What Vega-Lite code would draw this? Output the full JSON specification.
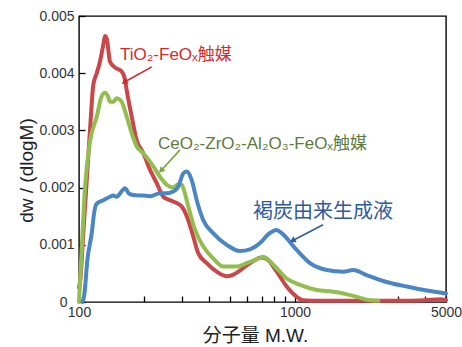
{
  "$schema": "https://vega.github.io/schema/vega-lite/v6.json",
  "width": 367,
  "height": 286,
  "autosize": {"type": "none"},
  "padding": {"left": 79, "top": 16, "right": 16, "bottom": 45},
  "background": "white",
  "config": {
    "view": {"stroke": "#000", "strokeWidth": 1.4},
    "axis": {
      "domain": false, "grid": false, "tickColor": "#000", "tickSize": 6, "tickWidth": 1.3, "offset": -6,
      "labelFont": "Liberation Sans", "labelFontSize": 14, "labelColor": "#333", "labelFlush": false, "labelOverlap": false,
      "titleFont": "Liberation Sans, Noto Sans CJK JP", "titleFontSize": 19, "titleFontWeight": "normal", "titleColor": "#222"
    }
  },
  "datasets": {
    "curves": [
      {"s": "TiO2", "M": 100, "dw": 0.00025}, {"s": "TiO2", "M": 101.5, "dw": 0.0004}, {"s": "TiO2", "M": 104.7, "dw": 0.0012},
      {"s": "TiO2", "M": 108.5, "dw": 0.0021}, {"s": "TiO2", "M": 112.4, "dw": 0.003}, {"s": "TiO2", "M": 116.5, "dw": 0.0038},
      {"s": "TiO2", "M": 120.8, "dw": 0.004}, {"s": "TiO2", "M": 125, "dw": 0.0042}, {"s": "TiO2", "M": 129.6, "dw": 0.0045},
      {"s": "TiO2", "M": 131.9, "dw": 0.00465}, {"s": "TiO2", "M": 134.5, "dw": 0.0046}, {"s": "TiO2", "M": 139.2, "dw": 0.0042},
      {"s": "TiO2", "M": 146.8, "dw": 0.0041}, {"s": "TiO2", "M": 157.6, "dw": 0.00403}, {"s": "TiO2", "M": 163, "dw": 0.0039},
      {"s": "TiO2", "M": 166.3, "dw": 0.0037}, {"s": "TiO2", "M": 175.4, "dw": 0.00324}, {"s": "TiO2", "M": 184.9, "dw": 0.00283},
      {"s": "TiO2", "M": 198.5, "dw": 0.0026}, {"s": "TiO2", "M": 213.2, "dw": 0.00231}, {"s": "TiO2", "M": 228.9, "dw": 0.00208},
      {"s": "TiO2", "M": 245.6, "dw": 0.00184}, {"s": "TiO2", "M": 263.8, "dw": 0.00178}, {"s": "TiO2", "M": 283.4, "dw": 0.00173},
      {"s": "TiO2", "M": 298.9, "dw": 0.00167}, {"s": "TiO2", "M": 320.6, "dw": 0.00143}, {"s": "TiO2", "M": 338.2, "dw": 0.00114},
      {"s": "TiO2", "M": 356.8, "dw": 0.00085}, {"s": "TiO2", "M": 390.2, "dw": 0.00068}, {"s": "TiO2", "M": 434, "dw": 0.00053},
      {"s": "TiO2", "M": 482.7, "dw": 0.00045}, {"s": "TiO2", "M": 518, "dw": 0.00048}, {"s": "TiO2", "M": 556, "dw": 0.00055},
      {"s": "TiO2", "M": 619, "dw": 0.00068}, {"s": "TiO2", "M": 701, "dw": 0.00078}, {"s": "TiO2", "M": 752, "dw": 0.00073},
      {"s": "TiO2", "M": 823, "dw": 0.00053}, {"s": "TiO2", "M": 915, "dw": 0.00027}, {"s": "TiO2", "M": 1018, "dw": 0.00009},
      {"s": "TiO2", "M": 1089, "dw": 0.00003}, {"s": "TiO2", "M": 1300, "dw": 0.00002}, {"s": "TiO2", "M": 2000, "dw": 0.00002},
      {"s": "TiO2", "M": 3000, "dw": 0.00002}, {"s": "TiO2", "M": 4000, "dw": 0.00003}, {"s": "TiO2", "M": 4700, "dw": 0.00005},
      {"s": "TiO2", "M": 5000, "dw": 0.00003},

      {"s": "CeO2", "M": 100, "dw": 0.0}, {"s": "CeO2", "M": 102.9, "dw": 0.0009}, {"s": "CeO2", "M": 106.6, "dw": 0.002},
      {"s": "CeO2", "M": 112.4, "dw": 0.0028}, {"s": "CeO2", "M": 120.8, "dw": 0.00324}, {"s": "CeO2", "M": 127.4, "dw": 0.0036},
      {"s": "CeO2", "M": 131.9, "dw": 0.00366}, {"s": "CeO2", "M": 136, "dw": 0.0036}, {"s": "CeO2", "M": 139.2, "dw": 0.0035},
      {"s": "CeO2", "M": 144, "dw": 0.0035}, {"s": "CeO2", "M": 149.5, "dw": 0.00356}, {"s": "CeO2", "M": 154, "dw": 0.00354},
      {"s": "CeO2", "M": 157.6, "dw": 0.0035}, {"s": "CeO2", "M": 166.3, "dw": 0.00324}, {"s": "CeO2", "M": 175.4, "dw": 0.00295},
      {"s": "CeO2", "M": 184.9, "dw": 0.00272}, {"s": "CeO2", "M": 198.5, "dw": 0.0026}, {"s": "CeO2", "M": 220.8, "dw": 0.00237},
      {"s": "CeO2", "M": 237.1, "dw": 0.00219}, {"s": "CeO2", "M": 254.7, "dw": 0.00205}, {"s": "CeO2", "M": 273.3, "dw": 0.002},
      {"s": "CeO2", "M": 288.3, "dw": 0.00206}, {"s": "CeO2", "M": 298.9, "dw": 0.00205}, {"s": "CeO2", "M": 304, "dw": 0.00199},
      {"s": "CeO2", "M": 320.6, "dw": 0.00167}, {"s": "CeO2", "M": 344.4, "dw": 0.00126}, {"s": "CeO2", "M": 376.3, "dw": 0.00097},
      {"s": "CeO2", "M": 418.6, "dw": 0.00076}, {"s": "CeO2", "M": 465.6, "dw": 0.00062}, {"s": "CeO2", "M": 537, "dw": 0.00062},
      {"s": "CeO2", "M": 597, "dw": 0.00068}, {"s": "CeO2", "M": 689, "dw": 0.00077}, {"s": "CeO2", "M": 713, "dw": 0.00079},
      {"s": "CeO2", "M": 740, "dw": 0.00076}, {"s": "CeO2", "M": 823, "dw": 0.00059}, {"s": "CeO2", "M": 915, "dw": 0.00041},
      {"s": "CeO2", "M": 1055, "dw": 0.0003}, {"s": "CeO2", "M": 1260, "dw": 0.00021}, {"s": "CeO2", "M": 1504, "dw": 0.00018},
      {"s": "CeO2", "M": 1673, "dw": 0.00015}, {"s": "CeO2", "M": 1930, "dw": 0.00009}, {"s": "CeO2", "M": 2224, "dw": 0.00003},
      {"s": "CeO2", "M": 2430, "dw": 0.00002},

      {"s": "Coal", "M": 104, "dw": 0.0}, {"s": "Coal", "M": 106, "dw": 0.00015}, {"s": "Coal", "M": 109.3, "dw": 0.00073},
      {"s": "Coal", "M": 114.5, "dw": 0.0012}, {"s": "Coal", "M": 118, "dw": 0.0016}, {"s": "Coal", "M": 120.8, "dw": 0.00172},
      {"s": "Coal", "M": 129.6, "dw": 0.00178}, {"s": "Coal", "M": 139.2, "dw": 0.00184}, {"s": "Coal", "M": 144, "dw": 0.00186},
      {"s": "Coal", "M": 149.5, "dw": 0.00184}, {"s": "Coal", "M": 155, "dw": 0.0019}, {"s": "Coal", "M": 163.3, "dw": 0.00199},
      {"s": "Coal", "M": 170, "dw": 0.0019}, {"s": "Coal", "M": 178.4, "dw": 0.00187}, {"s": "Coal", "M": 198.5, "dw": 0.00186},
      {"s": "Coal", "M": 213.2, "dw": 0.00185}, {"s": "Coal", "M": 237.1, "dw": 0.0019}, {"s": "Coal", "M": 255, "dw": 0.0019},
      {"s": "Coal", "M": 273.3, "dw": 0.00193}, {"s": "Coal", "M": 288.3, "dw": 0.00202}, {"s": "Coal", "M": 304, "dw": 0.00225},
      {"s": "Coal", "M": 315.2, "dw": 0.00228}, {"s": "Coal", "M": 332.5, "dw": 0.00213}, {"s": "Coal", "M": 350.7, "dw": 0.00178},
      {"s": "Coal", "M": 376.3, "dw": 0.00143}, {"s": "Coal", "M": 418.6, "dw": 0.0012}, {"s": "Coal", "M": 482.7, "dw": 0.001},
      {"s": "Coal", "M": 556.5, "dw": 0.00089}, {"s": "Coal", "M": 619, "dw": 0.00092}, {"s": "Coal", "M": 689, "dw": 0.00103},
      {"s": "Coal", "M": 760, "dw": 0.0012}, {"s": "Coal", "M": 823, "dw": 0.00126}, {"s": "Coal", "M": 870, "dw": 0.0012},
      {"s": "Coal", "M": 1018, "dw": 0.00091}, {"s": "Coal", "M": 1173, "dw": 0.00068}, {"s": "Coal", "M": 1402, "dw": 0.00056},
      {"s": "Coal", "M": 1673, "dw": 0.00053}, {"s": "Coal", "M": 1862, "dw": 0.00056}, {"s": "Coal", "M": 2147, "dw": 0.00047},
      {"s": "Coal", "M": 2658, "dw": 0.00035}, {"s": "Coal", "M": 3289, "dw": 0.00027}, {"s": "Coal", "M": 4071, "dw": 0.0002},
      {"s": "Coal", "M": 5000, "dw": 0.00015}
    ],
    "notes": [
      {"s": "TiO2", "label": "TiO₂-FeOₓ触媒", "M": 154.8, "dw": 0.00432},
      {"s": "CeO2", "label": "CeO₂-ZrO₂-Al₂O₃-FeOₓ触媒", "M": 232.2, "dw": 0.00277},
      {"s": "Coal", "label": "褐炭由来生成液", "M": 639, "dw": 0.00157}
    ],
    "arrows": [
      {"s": "TiO2", "M": 217.1, "dw": 0.00411, "M2": 163.3, "dw2": 0.00385},
      {"s": "CeO2", "M": 293.6, "dw": 0.00266, "M2": 241.5, "dw2": 0.00231},
      {"s": "Coal", "M": 1348, "dw": 0.00135, "M2": 982, "dw2": 0.00108}
    ]
  },
  "layer": [
    {
      "data": {"name": "curves"},
      "mark": {"type": "line", "strokeWidth": 4, "interpolate": "monotone", "strokeCap": "round", "strokeJoin": "round"},
      "encoding": {
        "x": {"field": "M", "type": "quantitative",
          "scale": {"type": "log", "domain": [100, 5000], "nice": false},
          "axis": {"title": "分子量 M.W.", "values": [100, 200, 300, 400, 500, 600, 700, 800, 900, 1000, 2000, 3000, 4000, 5000],
            "labelExpr": "datum.value == 100 || datum.value == 1000 || datum.value == 5000 ? datum.value : ''",
            "labelPadding": 3, "titlePadding": 7, "titleX": 176}},
        "y": {"field": "dw", "type": "quantitative",
          "scale": {"domain": [0, 0.005], "nice": false},
          "axis": {"title": "dw / (dlogM)", "values": [0, 0.0005, 0.001, 0.0015, 0.002, 0.0025, 0.003, 0.0035, 0.004, 0.0045, 0.005],
            "labelExpr": "round(datum.value * 10000) % 10 == 0 ? (datum.value == 0 ? '0' : format(datum.value, '.3f')) : ''",
            "labelPadding": {"condition": {"test": "datum.value == 0", "value": 12}, "value": 5},
            "titlePadding": 2, "titleY": 154}},
        "color": {"field": "s", "type": "nominal", "legend": null, "sort": ["Coal", "CeO2", "TiO2"],
          "scale": {"domain": ["Coal", "CeO2", "TiO2"], "range": ["#4a86c6", "#92bd4f", "#c9474a"]}},
        "order": {"field": "s", "sort": "ascending"}
      }
    },
    {
      "data": {"name": "arrows"},
      "mark": {"type": "rule", "strokeWidth": 1.6},
      "encoding": {
        "x": {"field": "M", "type": "quantitative"},
        "y": {"field": "dw", "type": "quantitative"},
        "x2": {"field": "M2"},
        "y2": {"field": "dw2"},
        "stroke": {"field": "s", "type": "nominal", "legend": null,
          "scale": {"domain": ["Coal", "CeO2", "TiO2"], "range": ["#2f5f9f", "#7aa83e", "#cf2a2a"]}}
      }
    },
    {
      "data": {"name": "arrows"},
      "transform": [{"filter": "datum.s == 'TiO2'"}],
      "mark": {"type": "point", "shape": "triangle", "filled": true, "size": 45, "angle": 240, "color": "#cf2a2a", "opacity": 1},
      "encoding": {"x": {"field": "M2", "type": "quantitative"}, "y": {"field": "dw2", "type": "quantitative"}}
    },
    {
      "data": {"name": "arrows"},
      "transform": [{"filter": "datum.s == 'CeO2'"}],
      "mark": {"type": "point", "shape": "triangle", "filled": true, "size": 45, "angle": 224, "color": "#7aa83e", "opacity": 1},
      "encoding": {"x": {"field": "M2", "type": "quantitative"}, "y": {"field": "dw2", "type": "quantitative"}}
    },
    {
      "data": {"name": "arrows"},
      "transform": [{"filter": "datum.s == 'Coal'"}],
      "mark": {"type": "point", "shape": "triangle", "filled": true, "size": 45, "angle": 243, "color": "#2f5f9f", "opacity": 1},
      "encoding": {"x": {"field": "M2", "type": "quantitative"}, "y": {"field": "dw2", "type": "quantitative"}}
    },
    {
      "data": {"name": "notes"},
      "transform": [{"filter": "datum.s != 'Coal'"}],
      "mark": {"type": "text", "align": "left", "baseline": "middle", "fontSize": 17, "font": "Liberation Sans, Noto Sans CJK JP"},
      "encoding": {
        "x": {"field": "M", "type": "quantitative"},
        "y": {"field": "dw", "type": "quantitative"},
        "text": {"field": "label"},
        "fill": {"field": "s", "type": "nominal", "legend": null,
          "scale": {"domain": ["Coal", "CeO2", "TiO2"], "range": ["#2d5b9c", "#5f7a3d", "#d42a2a"]}}
      }
    },
    {
      "data": {"name": "notes"},
      "transform": [{"filter": "datum.s == 'Coal'"}],
      "mark": {"type": "text", "align": "left", "baseline": "middle", "fontSize": 20, "font": "Noto Sans CJK JP", "color": "#2d5b9c"},
      "encoding": {
        "x": {"field": "M", "type": "quantitative"},
        "y": {"field": "dw", "type": "quantitative"},
        "text": {"field": "label"}
      }
    }
  ]
}
